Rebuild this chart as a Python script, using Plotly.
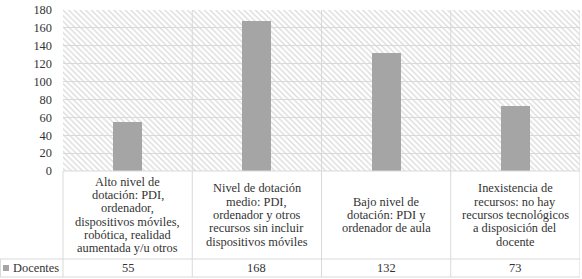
import plotly.graph_objects as go

# ---- data ----
categories = ["Alto", "Medio", "Bajo", "Inexistencia"]
category_lines = [
    ["Alto nivel de", "dotación: PDI,", "ordenador,", "dispositivos móviles,", "robótica, realidad", "aumentada y/u otros"],
    ["Nivel de dotación", "medio: PDI,", "ordenador y otros", "recursos sin incluir", "dispositivos móviles"],
    ["Bajo nivel de", "dotación: PDI y", "ordenador de aula"],
    ["Inexistencia de", "recursos: no hay", "recursos tecnológicos", "a disposición del", "docente"],
]
series_name = "Docentes"
values = [55, 168, 132, 73]
y_max = 180
y_ticks = [0, 20, 40, 60, 80, 100, 120, 140, 160, 180]

# ---- layout geometry (pixels) ----
W, H = 582, 279
L, R, T, B = 63, 2, 10, 108
pw, ph = W - L - R, H - T - B

def px_x(p):  # pixel -> paper x
    return (p - L) / pw

def px_y(p):  # pixel -> paper y
    return (H - B - p) / ph

FONT = '"Liberation Serif", "Times New Roman", Times, serif'
FS = 12.4
GRID = "#d9d9d9"
TXT = "#333333"
BAR = "#a5a5a5"

fig = go.Figure()
# hatched plot background
fig.add_trace(go.Bar(
    x=categories, y=[y_max] * len(categories), width=1,
    marker=dict(color="#d8d8d8", line=dict(width=0),
                pattern=dict(shape="\\", fillmode="replace", fgcolor="#d8d8d8",
                             bgcolor="rgba(255,255,255,0)", size=4, solidity=0.3)),
    hoverinfo="skip", showlegend=False))
fig.add_trace(go.Bar(x=categories, y=values, width=0.225, name=series_name,
                     marker=dict(color=BAR, line=dict(width=0)), showlegend=False))

shapes = []
# vertical category dividers through plot and table
for i in range(len(categories)):
    shapes.append(dict(type="line", xref="x", yref="paper", x0=i + 0.5, x1=i + 0.5,
                       y0=1, y1=px_y(277), line=dict(color=GRID, width=1)))
# left edge of table
shapes.append(dict(type="line", xref="paper", yref="paper", x0=0, x1=0,
                   y0=0, y1=px_y(277), line=dict(color=GRID, width=1)))
shapes.append(dict(type="line", xref="paper", yref="paper", x0=px_x(0.5), x1=px_x(0.5),
                   y0=px_y(259), y1=px_y(277), line=dict(color=GRID, width=1)))
# horizontal table lines
shapes.append(dict(type="line", xref="paper", yref="paper", x0=0, x1=1, y0=0, y1=0,
                   line=dict(color=GRID, width=1)))
for yy in (259, 277):
    shapes.append(dict(type="line", xref="paper", yref="paper", x0=px_x(0), x1=1,
                       y0=px_y(yy), y1=px_y(yy), line=dict(color=GRID, width=1)))
# legend key
shapes.append(dict(type="rect", xref="paper", yref="paper", x0=px_x(3), x1=px_x(9),
                   y0=px_y(265), y1=px_y(271), fillcolor=BAR, line=dict(width=0)))

annotations = []
line_h = 13.3
for i, lines in enumerate(category_lines):
    n = len(lines)
    for j, t in enumerate(lines):
        yc = 215 + (j - (n - 1) / 2) * line_h
        annotations.append(dict(x=i, xref="x", y=px_y(yc), yref="paper", text=t,
                                showarrow=False, xanchor="center", yanchor="middle",
                                font=dict(family=FONT, size=FS, color=TXT)))
for i, v in enumerate(values):
    annotations.append(dict(x=i, xref="x", y=px_y(268), yref="paper", text=str(v),
                            showarrow=False, xanchor="center", yanchor="middle",
                            font=dict(family=FONT, size=FS, color=TXT)))
annotations.append(dict(x=px_x(11), xref="paper", y=px_y(268), yref="paper", text=series_name,
                        showarrow=False, xanchor="left", yanchor="middle",
                        font=dict(family=FONT, size=FS, color=TXT)))

fig.update_layout(
    width=W, height=H, margin=dict(l=L, r=R, t=T, b=B),
    paper_bgcolor="white", plot_bgcolor="white",
    font=dict(family=FONT, size=FS, color=TXT),
    barmode="overlay", bargap=0,
    shapes=shapes, annotations=annotations,
    xaxis=dict(range=[-0.5, 3.5], showticklabels=False, showgrid=False, zeroline=False,
               showline=False, fixedrange=True),
    yaxis=dict(range=[0, y_max], tickvals=y_ticks, showgrid=True, gridcolor=GRID,
               gridwidth=1, zeroline=False, showline=False, ticks="",
               ticklabelstandoff=10,
               tickfont=dict(family=FONT, size=FS, color=TXT), fixedrange=True),
    showlegend=False,
)

fig.write_html("out.html", config={"displayModeBar": False},
               post_script="document.body.style.margin='0';document.body.style.padding='0';")
